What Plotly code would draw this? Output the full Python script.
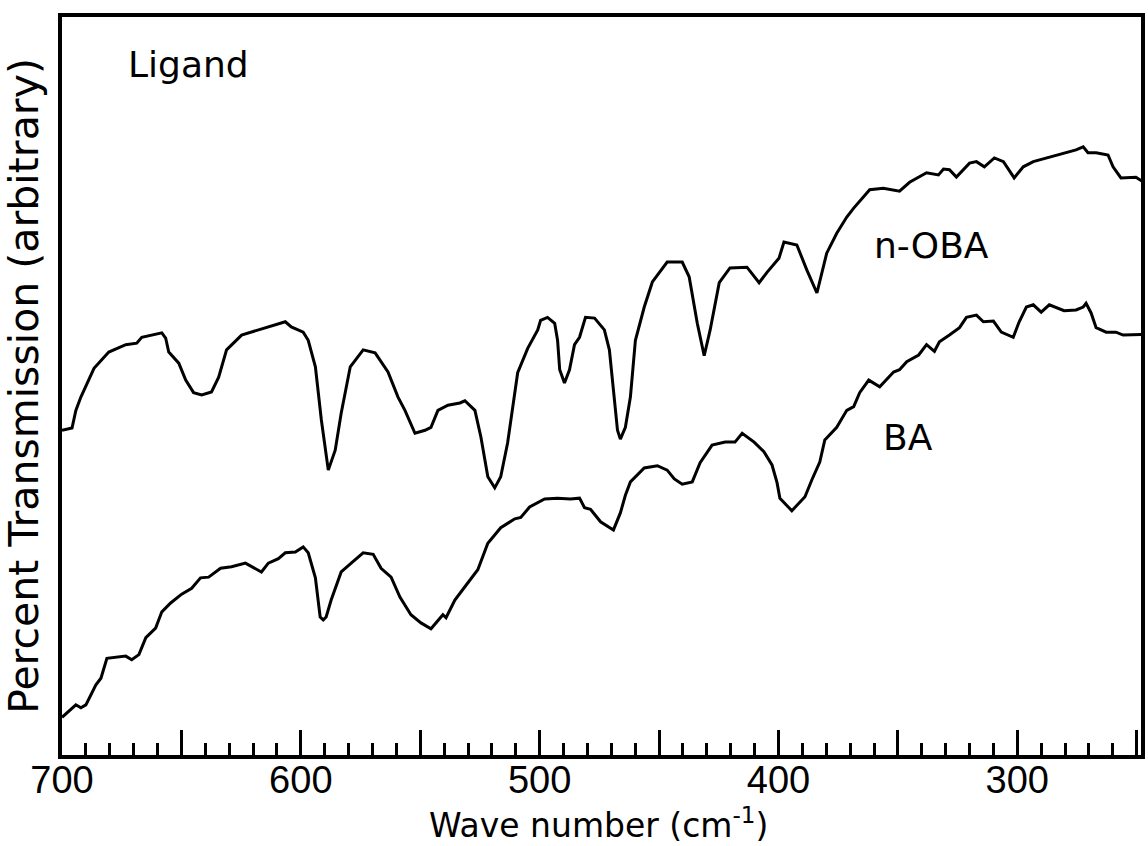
import plotly.graph_objects as go

# ---- data (wave number in cm^-1, transmission in arbitrary units 0-100) ----
noba_wn = [700.0, 695.8, 694.2, 692.1, 686.6, 680.4, 673.3, 668.7, 666.6, 662.4,
           658.2, 656.6, 655.3, 651.1, 648.2, 644.9, 641.5, 637.4, 634.4, 631.1,
           624.8, 617.7, 610.6, 606.5, 604.0, 599.0, 596.9, 593.9, 591.4, 588.5,
           585.6, 583.1, 579.3, 573.9, 568.9, 563.5, 559.3, 556.4, 552.2, 548.0,
           545.5, 542.6, 538.4, 533.4, 531.3, 527.1, 524.6, 521.7, 518.8, 516.3,
           513.4, 509.2, 505.0, 500.8, 499.6, 496.7, 493.7, 492.5, 491.6, 489.6,
           487.5, 485.4, 483.3, 480.8, 477.0, 472.9, 470.8, 468.7, 467.4, 466.2,
           464.1, 462.0, 459.9, 456.2, 452.8, 446.6, 440.3, 437.4, 434.0, 431.1,
           428.6, 424.8, 420.3, 413.2, 409.8, 408.1, 404.8, 399.8, 397.7, 392.3,
           388.1, 383.9, 379.8, 375.6, 371.4, 368.5, 361.8, 356.1, 349.3, 345.1,
           338.0, 333.0, 330.9, 328.4, 325.5, 320.0, 317.1, 313.8, 309.6, 305.8,
           301.3, 297.5, 293.3, 287.9, 279.5, 275.4, 272.4, 270.4, 267.0, 262.0,
           259.9, 256.6, 250.3, 247.0]
noba_t = [44.0, 44.3, 46.7, 48.5, 52.4, 54.6, 55.6, 55.8, 56.6, 56.9,
          57.2, 56.5, 54.6, 53.1, 50.8, 49.1, 48.8, 49.2, 51.2, 54.9,
          56.9, 57.6, 58.3, 58.7, 58.0, 57.3, 56.2, 52.6, 45.4, 38.6,
          41.3, 46.3, 52.6, 54.9, 54.5, 51.9, 48.5, 46.7, 43.6, 44.0,
          44.4, 46.7, 47.4, 47.7, 48.0, 46.7, 43.1, 37.7, 36.2, 37.7,
          42.3, 51.8, 55.1, 57.6, 58.9, 59.3, 58.5, 56.2, 52.2, 50.4,
          52.2, 55.6, 56.6, 59.3, 59.2, 57.6, 54.9, 48.5, 44.0, 42.8,
          44.4, 48.5, 56.2, 60.7, 64.1, 66.8, 66.8, 64.8, 58.5, 54.1,
          57.6, 64.0, 66.0, 66.1, 64.8, 64.0, 65.4, 67.3, 69.5, 69.1,
          65.7, 62.6, 68.0, 70.7, 72.9, 74.1, 76.6, 76.8, 76.4, 77.6,
          78.9, 78.6, 79.4, 79.3, 78.3, 80.2, 80.4, 79.7, 80.9, 80.4,
          78.2, 79.7, 80.4, 80.9, 81.6, 82.0, 82.4, 81.6, 81.6, 81.3,
          79.7, 78.2, 78.3, 77.6]

ba_wn = [700.0, 694.2, 692.1, 690.0, 685.8, 683.7, 681.2, 673.3, 670.8, 667.8,
         664.9, 660.8, 658.2, 654.5, 649.9, 645.7, 642.0, 638.6, 633.6, 629.0,
         623.2, 619.0, 616.5, 613.6, 609.4, 606.5, 602.3, 599.0, 596.9, 593.9,
         591.9, 590.6, 589.4, 587.3, 583.1, 578.9, 573.9, 569.7, 566.4, 562.2,
         558.5, 553.9, 549.7, 545.5, 540.5, 539.2, 535.5, 531.3, 525.9, 521.7,
         516.3, 510.4, 507.9, 504.2, 497.9, 492.5, 487.1, 483.3, 481.2, 478.7,
         474.5, 469.1, 466.2, 464.1, 462.0, 456.2, 450.7, 446.6, 443.6, 440.3,
         436.1, 432.8, 427.8, 422.3, 418.2, 415.2, 410.2, 406.1, 402.7, 400.6,
         399.4, 394.4, 388.9, 386.0, 382.7, 380.6, 375.6, 371.4, 368.5, 366.0,
         362.2, 357.6, 351.8, 349.3, 346.3, 341.3, 338.0, 334.7, 332.6, 328.4,
         324.2, 321.3, 317.1, 314.2, 310.0, 306.7, 301.7, 299.2, 296.2, 293.3,
         290.0, 286.6, 280.4, 275.4, 272.4, 271.2, 269.1, 267.0, 262.8, 258.7,
         255.7, 247.0]
ba_t = [5.1, 6.8, 6.4, 6.8, 9.5, 10.4, 13.1, 13.4, 12.9, 13.6,
        15.9, 17.2, 19.4, 20.6, 21.8, 22.6, 24.0, 24.1, 25.3, 25.5,
        26.0, 25.3, 24.8, 26.0, 26.6, 27.4, 27.5, 28.2, 27.4, 24.0,
        18.7, 18.3, 18.7, 21.0, 24.8, 26.0, 27.4, 27.2, 25.3, 24.1,
        21.4, 19.0, 17.9, 17.1, 19.0, 18.6, 21.0, 22.8, 25.1, 28.7,
        30.8, 32.0, 32.2, 33.6, 34.7, 34.8, 34.7, 34.8, 33.5, 33.3,
        31.6, 30.5, 32.8, 35.2, 37.0, 38.9, 39.2, 38.6, 37.4, 36.7,
        37.0, 39.6, 42.0, 42.4, 42.4, 43.6, 42.4, 41.1, 39.3, 36.9,
        34.8, 33.1, 35.0, 37.3, 39.7, 42.7, 44.4, 46.7, 47.2, 49.1,
        50.8, 49.9, 51.9, 52.2, 53.3, 54.2, 55.6, 54.7, 56.0, 56.9,
        57.9, 59.3, 59.6, 58.7, 58.8, 57.3, 56.6, 58.7, 60.7, 61.0,
        60.0, 61.0, 60.2, 60.3, 60.7, 61.2, 59.9, 57.9, 57.3, 57.3,
        56.9, 57.0]

tick_values = [700, 650, 600, 550, 500, 450, 400, 350, 300, 250]
tick_labels = ["700", "", "600", "", "500", "", "400", "", "300", ""]

labels = ["Ligand", "n-OBA", "BA"]
label_x = [647, 335.9, 345.9]
label_y = [93.6, 69.1, 43.0]

x_title = "Wave number (cm<sup>-1</sup>)"
y_title = "Percent Transmission (arbitrary)"

# ---- figure ----
fig = go.Figure()
fig.add_trace(go.Scatter(x=noba_wn, y=noba_t, mode="lines", name="n-OBA",
                         line=dict(color="black", width=3)))
fig.add_trace(go.Scatter(x=ba_wn, y=ba_t, mode="lines", name="BA",
                         line=dict(color="black", width=3)))

for txt, lx, ly in zip(labels, label_x, label_y):
    fig.add_annotation(x=lx, y=ly, xref="x", yref="y", text=txt, showarrow=False,
                       xanchor="center", yanchor="middle",
                       font=dict(family="DejaVu Sans", size=36, color="black"))

# x-axis title placed below the tick labels
fig.add_annotation(x=0.497, y=-0.093, xref="paper", yref="paper", text=x_title,
                   showarrow=False, xanchor="center", yanchor="middle",
                   font=dict(family="DejaVu Sans", size=33, color="black"))

fig.update_layout(
    width=1148, height=846, autosize=False,
    margin=dict(l=62, r=3, t=17, b=91),
    paper_bgcolor="white", plot_bgcolor="white",
    showlegend=False,
    font=dict(family="DejaVu Sans", color="black"),
)

fig.update_xaxes(
    range=[700, 248.2],
    tickmode="array", tickvals=tick_values, ticktext=tick_labels,
    ticks="inside", ticklen=25, tickwidth=3, tickcolor="black",
    minor=dict(tick0=0, dtick=10, ticks="inside", ticklen=12, tickwidth=3,
               tickcolor="black", showgrid=False),
    tickfont=dict(family="Liberation Sans Narrow, Liberation Sans, sans-serif",
                  size=38, color="black"),
    ticklabelstandoff=-12,
    showline=True, linecolor="black", linewidth=4, mirror=True,
    showgrid=False, zeroline=False,
)
fig.update_yaxes(
    range=[0, 100],
    showticklabels=False, ticks="",
    showline=True, linecolor="black", linewidth=4, mirror=True,
    showgrid=False, zeroline=False,
    title=dict(text=y_title,
               font=dict(family="DejaVu Sans", size=41, color="black"),
               standoff=8),
)

fig.write_html("out.html")
